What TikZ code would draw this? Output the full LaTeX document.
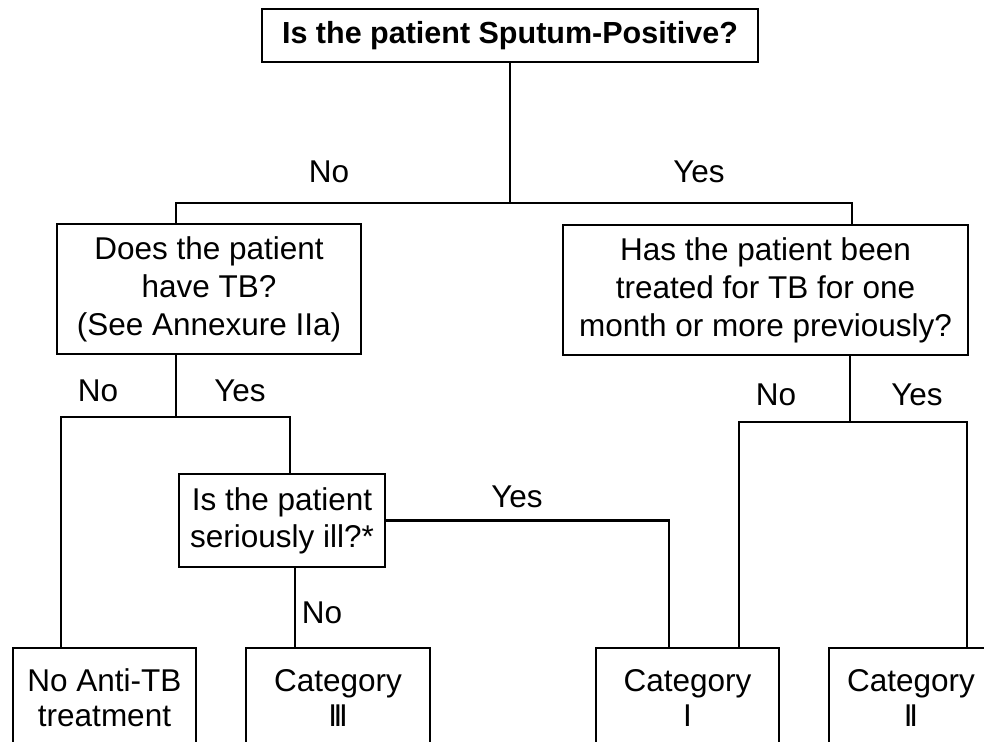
\documentclass[tikz,border=0pt]{standalone}
\usepackage{fontspec}
\setmainfont{Liberation Sans}
\begin{document}
\begin{tikzpicture}[x=1pt,y=-1pt,
    line width=2.9pt,
    every node/.style={font=\fontsize{31.5}{38}\selectfont, inner sep=0pt},
    qbox/.style={draw, line width=2.9pt, align=center},
    endbox/.style={draw, line width=2.9pt, align=center, minimum width=183, minimum height=100,
                   font=\fontsize{31.5}{35}\selectfont},
    lbl/.style={inner sep=0pt}]
  \clip (0,0) rectangle (984,741);

  % questions
  \node[qbox, minimum width=496, minimum height=53, font=\bfseries\fontsize{30.5}{36}\selectfont]
       (top) at (510,35.5) {Is the patient Sputum-Positive?};
  \node[qbox, minimum width=304, minimum height=130] (tb) at (209,289)
       {Does the patient\\have TB?\\(See Annexure IIa)};
  \node[qbox, minimum width=405, minimum height=130] (treated) at (765.5,290)
       {Has the patient been\\treated for TB for one\\month or more previously?};
  \node[qbox, minimum width=206, minimum height=93, font=\fontsize{31.5}{37}\selectfont]
       (ill) at (282,520.5) {Is the patient\\seriously ill?*};

  % outcomes (their lower edges run off the page)
  \node[endbox] (none) at (104.5,698) {No Anti-TB\\treatment};
  \node[endbox, minimum width=184] (cat3) at (338,698) {Category\\I\kern-3.4pt I\kern-3.4pt I};
  \node[endbox] (cat1) at (687.5,698) {Category\\I};
  \node[endbox, minimum width=164] (cat2) at (911,698) {Category\\I\kern-3.4pt I};

  % branching lines
  \coordinate (s1) at (510,203);
  \draw (top.south) -- (s1);
  \draw ([xshift=-33]tb.north) |- (s1) -| ([xshift=86.5]treated.north);

  \coordinate (s2) at (176,417);
  \draw ([xshift=-33]tb.south) -- (s2);
  \draw ([xshift=-43.5]none.north) |- (s2) -| ([xshift=8]ill.north);

  \draw ([xshift=13]ill.south) -- ([xshift=-43]cat3.north);
  \draw (ill.east) -| ([xshift=-18.5]cat1.north);

  \coordinate (s3) at (850,422);
  \draw ([xshift=84.5]treated.south) -- (s3);
  \draw ([xshift=51.5]cat1.north) |- (s3) -| ([xshift=56]cat2.north);

  % branch labels
  \node[lbl] (l1) at (329,172) {No};
  \node[lbl] (l2) at (699,172) {Yes};
  \node[lbl] (l3) at (98,391) {No};
  \node[lbl] (l4) at (240,391) {Yes};
  \node[lbl] (l5) at (776,395) {No};
  \node[lbl] (l6) at (917,395) {Yes};
  \node[lbl] (l7) at (517,497) {Yes};
  \node[lbl] (l8) at (322,613) {No};
\end{tikzpicture}
\end{document}
